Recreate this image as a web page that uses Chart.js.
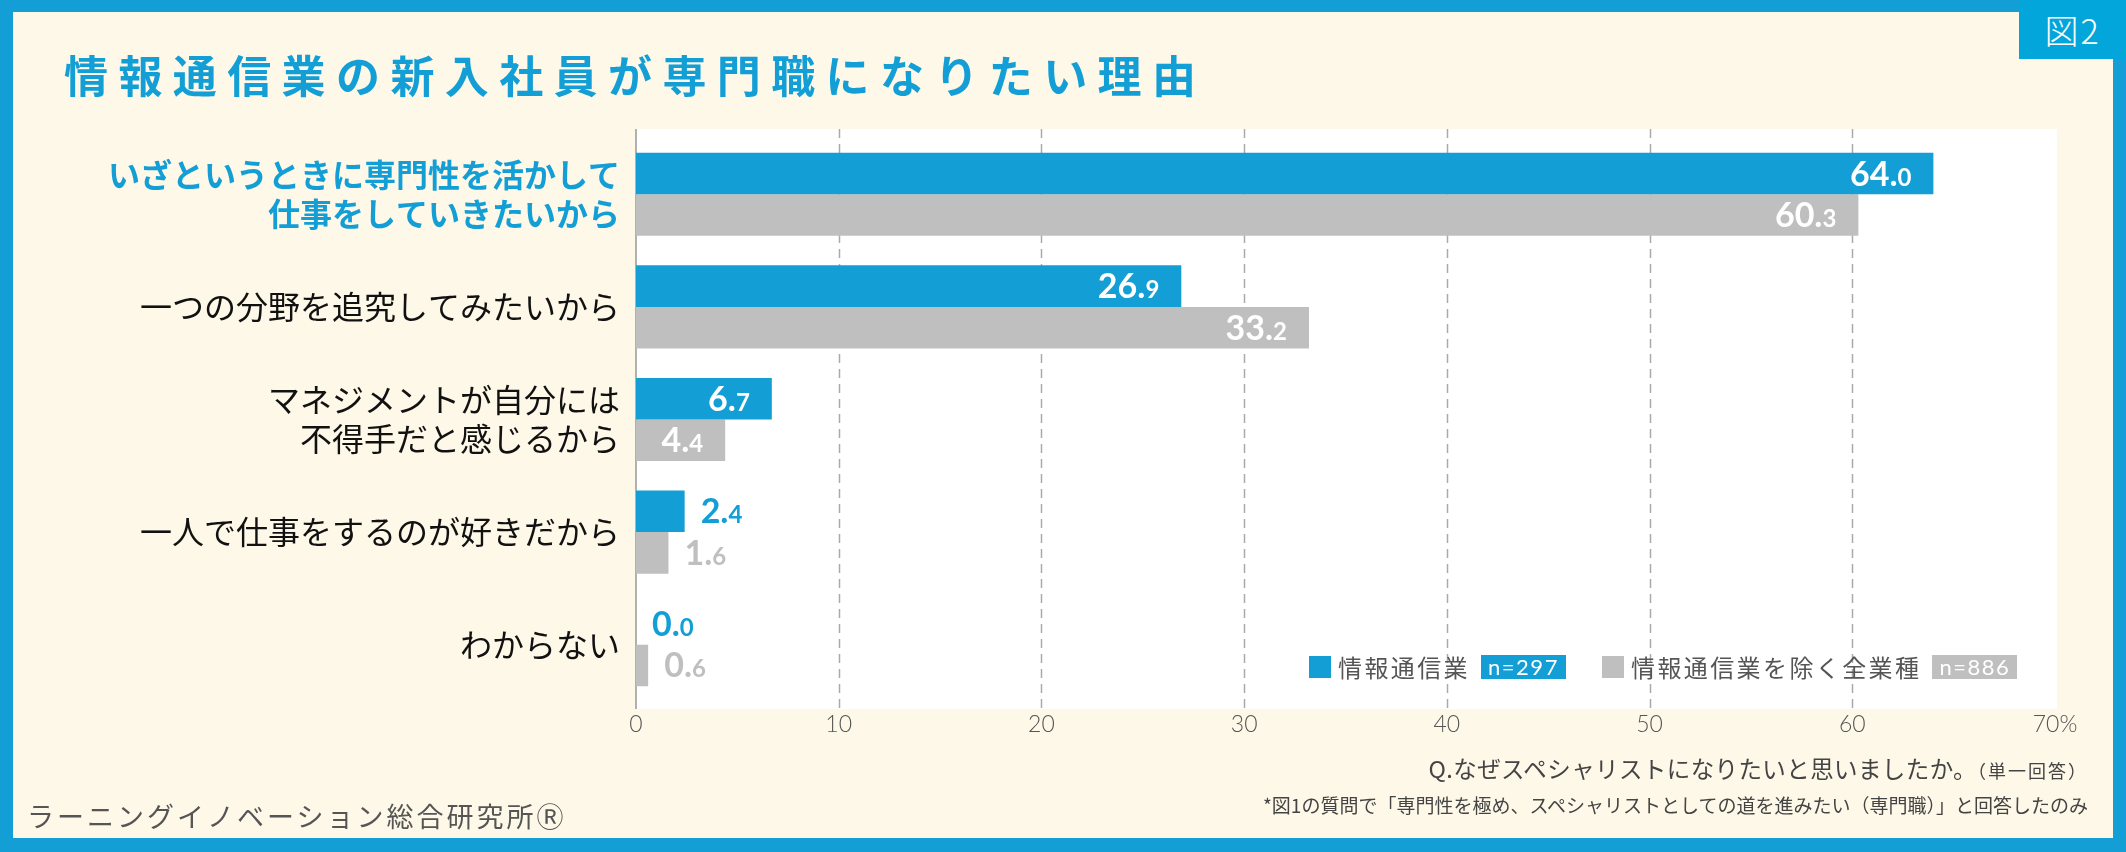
<!DOCTYPE html>
<html>
<head>
<meta charset="utf-8">
<script src="https://cdn.jsdelivr.net/npm/chart.js@4.4.1/dist/chart.umd.min.js"></script>
<style>
html,body{margin:0;padding:0;}
body{width:2126px;height:852px;position:relative;overflow:hidden;background:#139fd6;font-family:'Noto Sans CJK JP',sans-serif;}
#inner{position:absolute;left:13px;top:12px;width:2100px;height:826px;background:#fef8e8;}
#fig{position:absolute;left:2019px;top:0;width:107px;height:59px;background:#02a6db;color:#fff;font-size:34px;line-height:59px;text-align:center;font-weight:300;letter-spacing:2px;}
#title{position:absolute;left:64px;top:52px;font-size:44px;line-height:1;font-weight:700;color:#139fd6;letter-spacing:10.4px;white-space:nowrap;}
#chart{position:absolute;left:0;top:0;}
#legend{position:absolute;left:1309px;top:655px;height:24px;display:flex;align-items:center;}
.li{display:flex;align-items:center;margin-right:36px;}
.sq{width:22px;height:22px;margin-right:7px;}
.lt{font-size:24px;line-height:1;letter-spacing:2.4px;color:#555;font-weight:400;white-space:nowrap;}
.nb{margin-left:11px;height:24px;width:85px;color:#fff;font-family:Lato,sans-serif;font-size:22px;line-height:24px;text-align:center;letter-spacing:1.5px;}
#q{position:absolute;right:38px;top:757px;font-size:23.5px;line-height:1;color:#444;white-space:nowrap;letter-spacing:0.4px;}
#q span{font-size:18px;letter-spacing:2px;}
#note{position:absolute;right:38px;top:795px;font-size:19px;line-height:1;color:#444;white-space:nowrap;}
#org{position:absolute;left:27px;top:802px;font-size:27px;line-height:1;color:#555;letter-spacing:3px;white-space:nowrap;}
</style>
</head>
<body>
<div id="inner"></div>
<canvas id="chart" width="2126" height="852"></canvas>
<div id="fig">図2</div>
<div id="title">情報通信業の新入社員が専門職になりたい理由</div>
<div id="legend"></div>
<div id="q">Q.なぜスペシャリストになりたいと思いましたか。<span>（単一回答）</span></div>
<div id="note">*図1の質問で「専門性を極め、スペシャリストとしての道を進みたい（専門職）」と回答したのみ</div>
<div id="org">ラーニングイノベーション総合研究所Ⓡ</div>
<script>
// ---- data ----
const categories = [
  ["いざというときに専門性を活かして", "仕事をしていきたいから"],
  ["一つの分野を追究してみたいから"],
  ["マネジメントが自分には", "不得手だと感じるから"],
  ["一人で仕事をするのが好きだから"],
  ["わからない"]
];
const seriesNames = ["情報通信業", "情報通信業を除く全業種"];
const seriesN = ["n=297", "n=886"];
const ictValues = [64.0, 26.9, 6.7, 2.4, 0.0];
const otherValues = [60.3, 33.2, 4.4, 1.6, 0.6];
const xTickValues = [0, 10, 20, 30, 40, 50, 60, 70];
const xTickLabels = ["0", "10", "20", "30", "40", "50", "60", "70%"];

// ---- styles ----
const BLUE = '#139fd6';
const GRAY = '#bfbfbf';
const seriesColors = [BLUE, GRAY];
const JP = "'Noto Sans CJK JP', sans-serif";

// legend (HTML)
const lg = document.getElementById('legend');
seriesNames.forEach((name, i) => {
  const item = document.createElement('div');
  item.className = 'li';
  item.innerHTML = '<div class="sq" style="background:' + seriesColors[i] + '"></div>' +
    '<div class="lt">' + name + '</div>' +
    '<div class="nb" style="background:' + seriesColors[i] + '">' + seriesN[i] + '</div>';
  lg.appendChild(item);
});

const plotBg = {
  id: 'plotBg',
  beforeDatasetsDraw(chart) {
    const ctx = chart.ctx, a = chart.chartArea, x = chart.scales.x;
    const left = x.getPixelForValue(xTickValues[0]);
    const right = x.getPixelForValue(xTickValues[xTickValues.length - 1]) + 2;
    const top = a.top - 9, bottom = a.bottom + 8;
    ctx.save();
    ctx.fillStyle = '#ffffff';
    ctx.fillRect(left, top, right - left, bottom - top);
    ctx.strokeStyle = '#aaaaaa';
    ctx.lineWidth = 1.5;
    ctx.setLineDash([9, 6]);
    xTickValues.slice(1, -1).forEach(t => {
      const px = Math.round(x.getPixelForValue(t)) + 0.5;
      ctx.beginPath();
      ctx.moveTo(px, top);
      ctx.lineTo(px, bottom);
      ctx.stroke();
    });
    ctx.setLineDash([]);
    ctx.strokeStyle = '#999999';
    ctx.beginPath();
    ctx.moveTo(left, top);
    ctx.lineTo(left, bottom);
    ctx.stroke();
    ctx.restore();
  }
};

const valueLabels = {
  id: 'valueLabels',
  afterDatasetsDraw(chart) {
    const ctx = chart.ctx;
    const BIG = 34, SMALL = 24;
    chart.data.datasets.forEach((ds, di) => {
      const meta = chart.getDatasetMeta(di);
      meta.data.forEach((bar, i) => {
        const v = ds.data[i];
        const parts = v.toFixed(1).split('.');
        const big = parts[0] + '.';
        const small = parts[1];
        ctx.save();
        ctx.font = '700 ' + BIG + 'px Lato, sans-serif';
        const wb = ctx.measureText(big).width;
        ctx.font = '700 ' + SMALL + 'px Lato, sans-serif';
        const ws = ctx.measureText(small).width;
        let x0;
        if (v >= 4) {
          x0 = bar.x - 22 - wb - ws;
          ctx.fillStyle = '#ffffff';
        } else {
          x0 = bar.x + 16;
          ctx.fillStyle = seriesColors[di];
        }
        const yb = bar.y + 12;
        ctx.textAlign = 'left';
        ctx.textBaseline = 'alphabetic';
        ctx.font = '700 ' + BIG + 'px Lato, sans-serif';
        ctx.fillText(big, x0, yb);
        ctx.font = '700 ' + SMALL + 'px Lato, sans-serif';
        ctx.fillText(small, x0 + wb, yb);
        ctx.restore();
      });
    });
  }
};

new Chart(document.getElementById('chart').getContext('2d'), {
  type: 'bar',
  data: {
    labels: categories,
    datasets: [
      { label: seriesNames[0], data: ictValues, backgroundColor: seriesColors[0], categoryPercentage: 0.738, barPercentage: 1 },
      { label: seriesNames[1], data: otherValues, backgroundColor: seriesColors[1], categoryPercentage: 0.738, barPercentage: 1 }
    ]
  },
  options: {
    indexAxis: 'y',
    responsive: false,
    animation: false,
    devicePixelRatio: 1,
    layout: { padding: { top: 138, right: 71, left: 0, bottom: 0 } },
    plugins: { legend: { display: false }, tooltip: { enabled: false } },
    scales: {
      x: {
        min: xTickValues[0], max: xTickValues[xTickValues.length - 1],
        afterBuildTicks: (s) => { s.ticks = xTickValues.map(v => ({ value: v })); },
        ticks: {
          autoSkip: false, maxRotation: 0, padding: 10,
          callback: (v, i) => xTickLabels[i],
          color: '#555555',
          font: { family: 'Lato, sans-serif', size: 23, weight: 300, lineHeight: 1.2 }
        },
        grid: { display: false, drawTicks: false },
        border: { display: false },
        afterFit: (s) => { s.height = 151; }
      },
      y: {
        ticks: {
          padding: 16,
          color: (c) => c.index === 0 ? BLUE : '#111111',
          font: (c) => ({ family: JP, size: 32, weight: c.index === 0 ? 700 : 400, lineHeight: 1.2 })
        },
        grid: { display: false, drawTicks: false },
        border: { display: false },
        afterFit: (s) => { s.width = 636; }
      }
    }
  },
  plugins: [plotBg, valueLabels]
});
</script>
</body>
</html>
